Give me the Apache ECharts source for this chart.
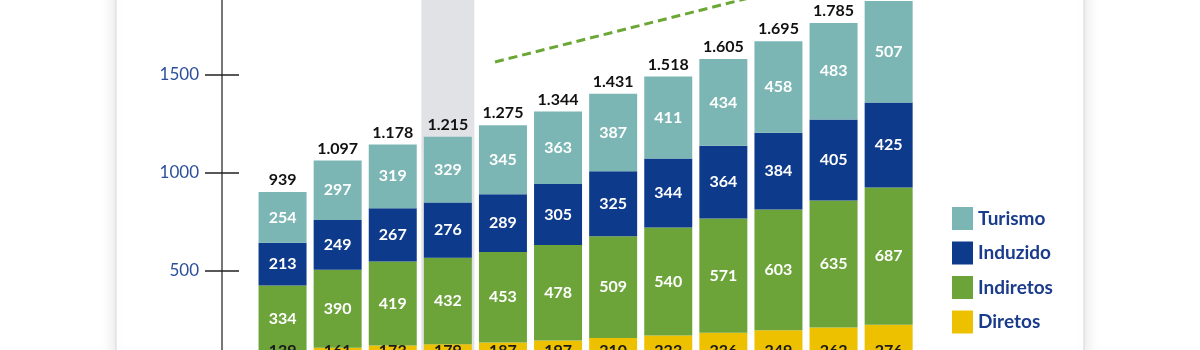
<!DOCTYPE html>
<html><head><meta charset="utf-8">
<script src="https://cdn.jsdelivr.net/npm/echarts@6/dist/echarts.min.js"></script>
<style>html,body{margin:0;padding:0;background:#fff}#c{width:1200px;height:350px}</style>
</head><body><div id="c"></div>
<script>
// ---- data ----
const categories = ['1','2','3','4','5','6','7','8','9','10','11','12'];
const diretos   = [139,161,173,179,187,197,210,223,236,249,262,276];
const indiretos = [334,390,419,432,453,478,509,540,571,603,635,687];
const induzido  = [213,249,267,276,289,305,325,344,364,384,405,425];
const turismo   = [254,297,319,329,345,363,387,411,434,458,483,507];
const totals    = [939,1097,1178,1215,1275,1344,1431,1518,1605,1695,1785,1895];
const seriesNames = ['Turismo','Induzido','Indiretos','Diretos'];
const highlightIndex = 3;           // shaded column
const shadeTop = 1980;
const trendLine = [[4.356,1590],[9.9,1975]]; // dashed trend annotation (x in category units, y in value)

// ---- chart ----
const chart = echarts.init(document.getElementById('c'), null, {renderer:'canvas'});
const FONT = 'Lato';
const fmtThousands = v => { const s = String(v); return s.length > 3 ? s.slice(0, s.length-3) + '.' + s.slice(-3) : s; };
const inLabel = (color) => ({show:true, position:'inside', color:color, fontFamily:FONT, fontWeight:'bold', fontSize:16});

const option = {
  backgroundColor:'#ffffff',
  animation:false,
  graphic:[{
    type:'rect', z:-10, silent:true,
    shape:{x:116, y:-20, width:968, height:400},
    style:{fill:'#ffffff', stroke:'#d3dade', lineWidth:1, shadowBlur:16, shadowColor:'rgba(0,0,0,0.13)'}
  }],
  grid:{left:255, top:-22.9, width:661.2, height:391.4, containLabel:false, outerBoundsMode:'none'},
  legend:{
    data:seriesNames, orient:'vertical', left:947, top:202,
    itemWidth:21, itemHeight:23, itemGap:11.5, icon:'rect',
    textStyle:{color:'#1b3c8c', fontSize:19, fontWeight:'bold', fontFamily:FONT}
  },
  xAxis:[
    {type:'category', data:categories, show:false},
    {type:'category', data:categories, show:false},
    {type:'value', min:0, max:12, show:false}
  ],
  yAxis:[
    {type:'value', min:0, max:2000, interval:500, position:'left', offset:33,
     axisLine:{show:true, onZero:false, lineStyle:{color:'#4a4a4a', width:1.5}},
     axisTick:{show:true, length:17, lineStyle:{color:'#222', width:1.5}},
     axisLabel:{color:'#2c4f9c', fontSize:17, fontFamily:FONT, margin:23, formatter:v => String(v)},
     splitLine:{show:false}},
    {type:'value', min:0, max:2000, interval:500, position:'left', offset:33,
     axisLine:{show:false, onZero:false},
     axisTick:{show:true, inside:true, length:17, lineStyle:{color:'#222', width:1.5}},
     axisLabel:{show:false}, splitLine:{show:false}},
    {type:'value', min:57.5, max:2014.5, show:false, position:'right', splitLine:{show:false}}
  ],
  series:[
    {name:'shade', type:'bar', xAxisIndex:1, yAxisIndex:2, barWidth:53, silent:true, z:1,
     itemStyle:{color:'#e1e2e5'},
     data:categories.map((c,i)=> i===highlightIndex ? shadeTop : null)},
    {name:'Diretos', type:'bar', stack:'a', xAxisIndex:0, yAxisIndex:2, barWidth:48, z:3, clip:true,
     itemStyle:{color:'#edc000'},
     label:Object.assign(inLabel('#1a1a1a'), {position:'insideBottom', distance:10}),
     data:diretos},
    {name:'Indiretos', type:'bar', stack:'a', xAxisIndex:0, yAxisIndex:2, z:3,
     itemStyle:{color:'#6ca43a'}, label:inLabel('#ffffff'), data:indiretos},
    {name:'Induzido', type:'bar', stack:'a', xAxisIndex:0, yAxisIndex:2, z:3,
     itemStyle:{color:'#0e3a8c'}, label:inLabel('#ffffff'), data:induzido},
    {name:'Turismo', type:'bar', stack:'a', xAxisIndex:0, yAxisIndex:2, z:3,
     itemStyle:{color:'#7bb6b4'}, label:inLabel('#ffffff'), data:turismo},
    {name:'Total', type:'bar', stack:'a', xAxisIndex:0, yAxisIndex:2, z:3,
     itemStyle:{color:'transparent'},
     label:{show:true, position:'top', distance:4, color:'#111', fontFamily:FONT, fontWeight:'bold', fontSize:16,
            formatter:p => fmtThousands(totals[p.dataIndex])},
     data:totals.map(()=>0)},
    {name:'trend', type:'line', xAxisIndex:2, yAxisIndex:2, z:4, silent:true, symbol:'none', clip:true,
     lineStyle:{color:'#6aa734', width:3, type:[9,5]},
     data:trendLine}
  ]
};
chart.setOption(option);
</script></body></html>
